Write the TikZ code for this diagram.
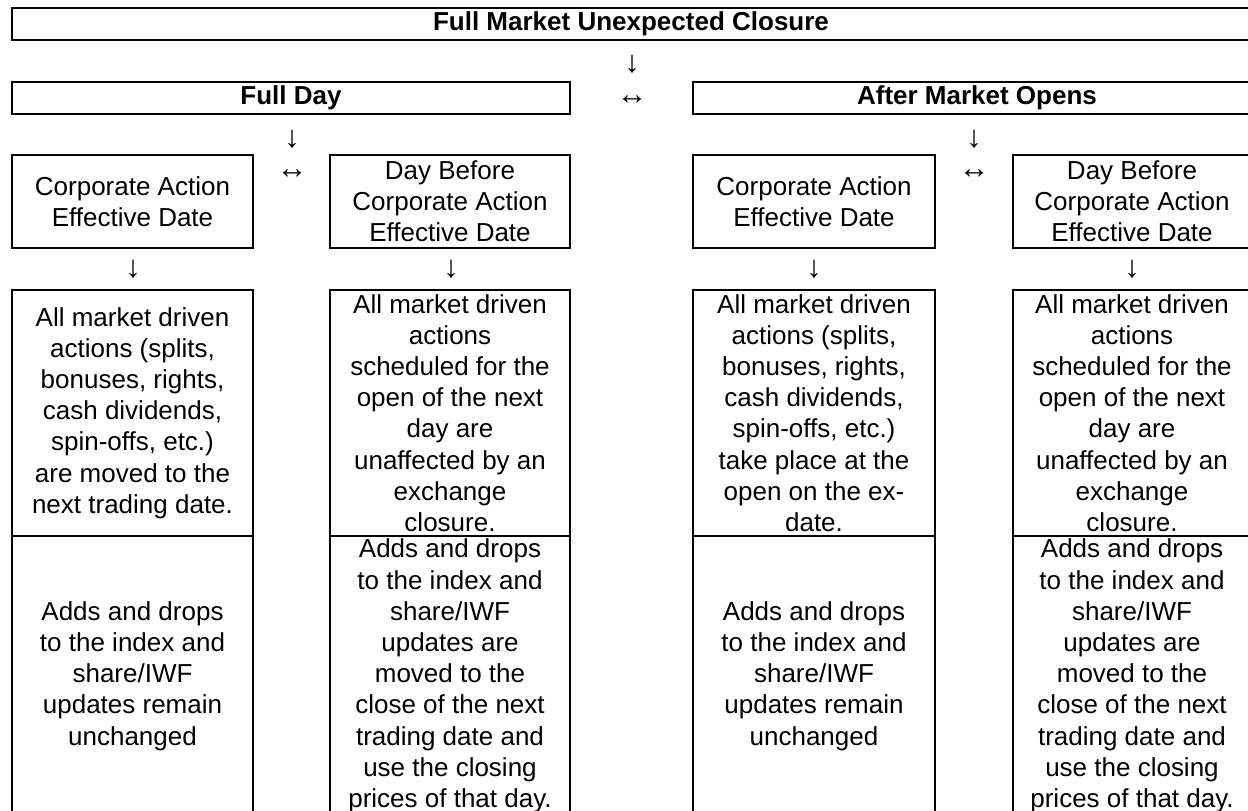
\documentclass[tikz,border=0pt]{standalone}
\usepackage{fontspec}
\setmainfont{Liberation Sans}
\usepackage{tikz}

\begin{document}
\begin{tikzpicture}[x=1pt,y=-1pt,
    cell/.style={draw,line width=1.8pt,inner sep=0pt,align=center,
      font=\fontsize{26}{31.2}\selectfont},
    head/.style={cell,font=\fontsize{26}{31.2}\selectfont\bfseries},
    sym/.style={inner sep=0pt,font=\fontsize{31}{31}\selectfont}]
    \useasboundingbox (0,0) rectangle (1248,811);
    \node[head,minimum width=1238pt,minimum height=32pt] (top) at (631,24) {Full Market Unexpected Closure};
    \node[head,minimum width=558pt,minimum height=32pt] (fd) at (291,98) {Full Day};
    \node[head,minimum width=568pt,minimum height=32pt] (am) at (977,98) {After Market Opens};
    \node[sym] (d0) at (632,64) {↓};
    \node[sym] (lr0) at (632,100) {↔};
    \node[sym] (d1) at (292,139) {↓};
    \node[sym] (lr1) at (292,174) {↔};
    \node[sym] (d2) at (974,139) {↓};
    \node[sym] (lr2) at (974,174) {↔};
    % effective date row
    \node[cell,minimum width=241pt,minimum height=93pt] (fa) at (132.5,201.5) {Corporate Action\\Effective Date};
    \node[cell,minimum width=240pt,minimum height=93pt] (fb) at (450,201.5) {Day Before\\Corporate Action\\Effective Date};
    \node[cell,minimum width=242pt,minimum height=93pt] (aa) at (814,201.5) {Corporate Action\\Effective Date};
    \node[cell,minimum width=238pt,minimum height=93pt] (ab) at (1132,201.5) {Day Before\\Corporate Action\\Effective Date};
    \node[sym] (d3) at (133,269) {↓};
    \node[sym] (d4) at (451,269) {↓};
    \node[sym] (d5) at (814,269) {↓};
    \node[sym] (d6) at (1132,269) {↓};
    % actions
    \node[cell,minimum width=241pt,minimum height=246pt] (fa1) at (132.5,413) {All market driven\\actions (splits,\\bonuses, rights,\\cash dividends,\\spin-offs, etc.)\\are moved to the\\next trading date.};
    \node[cell,minimum width=240pt,minimum height=246pt] (fb1) at (450,413) {All market driven\\actions\\scheduled for the\\open of the next\\day are\\unaffected by an\\exchange\\closure.};
    \node[cell,minimum width=242pt,minimum height=246pt] (aa1) at (814,413) {All market driven\\actions (splits,\\bonuses, rights,\\cash dividends,\\spin-offs, etc.)\\take place at the\\open on the ex-\\date.};
    \node[cell,minimum width=238pt,minimum height=246pt] (ab1) at (1132,413) {All market driven\\actions\\scheduled for the\\open of the next\\day are\\unaffected by an\\exchange\\closure.};
    % index changes
    \node[cell,minimum width=241pt,minimum height=280pt] (fa2) at (132.5,676) {Adds and drops\\to the index and\\share/IWF\\updates remain\\unchanged};
    \node[cell,minimum width=240pt,minimum height=280pt] (fb2) at (450,676) {Adds and drops\\to the index and\\share/IWF\\updates are\\moved to the\\close of the next\\trading date and\\use the closing\\prices of that day.};
    \node[cell,minimum width=242pt,minimum height=280pt] (aa2) at (814,676) {Adds and drops\\to the index and\\share/IWF\\updates remain\\unchanged};
    \node[cell,minimum width=238pt,minimum height=280pt] (ab2) at (1132,676) {Adds and drops\\to the index and\\share/IWF\\updates are\\moved to the\\close of the next\\trading date and\\use the closing\\prices of that day.};
\end{tikzpicture}
\end{document}
